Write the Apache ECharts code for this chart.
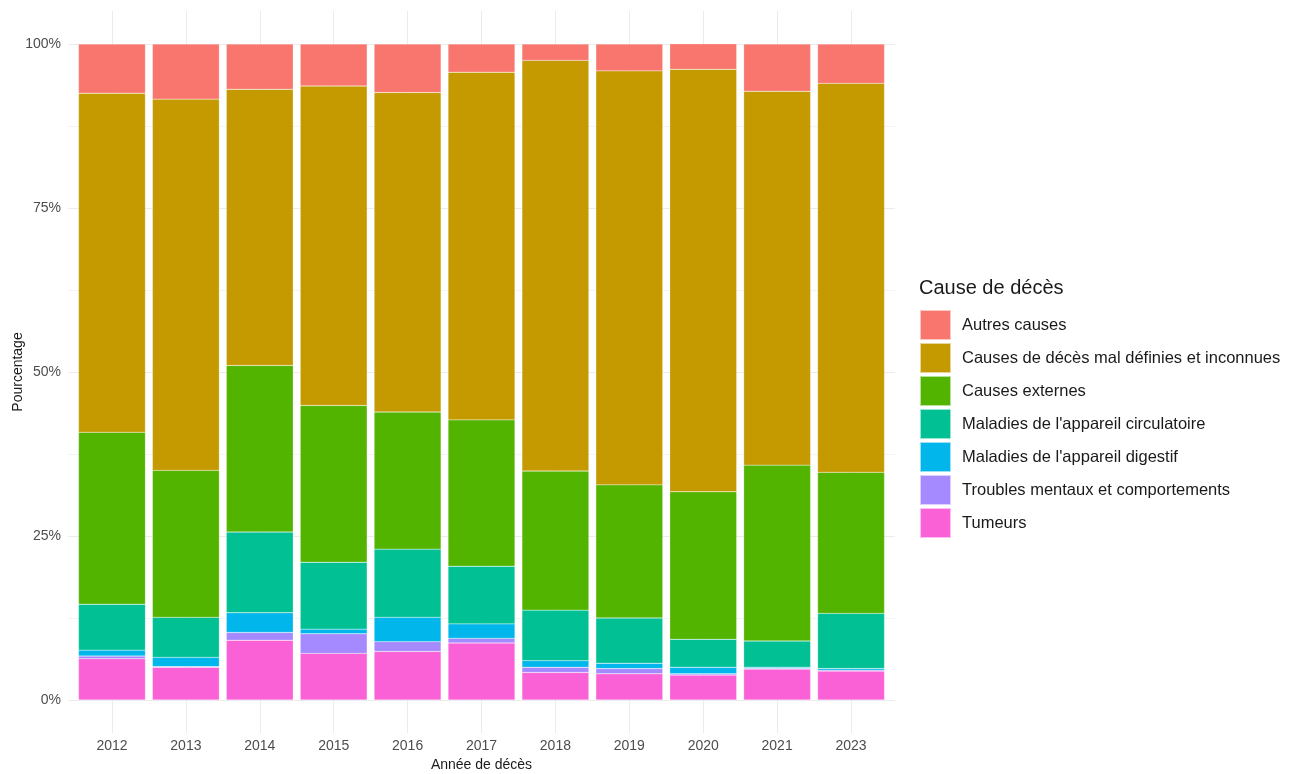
<!DOCTYPE html>
<html>
<head>
<meta charset="utf-8">
<script src="https://cdn.jsdelivr.net/npm/echarts@6/dist/echarts.min.js"></script>
<style>
  html, body { margin: 0; padding: 0; background: #fff; }
  #chart { width: 1312px; height: 774px; }
</style>
</head>
<body>
<div id="chart"></div>
<script>
// years on the x axis
const years = ['2012', '2013', '2014', '2015', '2016', '2017', '2018', '2019', '2020', '2021', '2023'];

// share of each cause, in % (bottom to top)
const tumeurs      = [6.3, 5.0, 9.1, 7.1, 7.4, 8.7, 4.2, 4.0, 3.8, 4.7, 4.4];
const troubles     = [0.4, 0.1, 1.2, 3.0, 1.5, 0.7, 0.8, 0.8, 0.2, 0.1, 0.15];
const digestif     = [0.9, 1.4, 3.0, 0.7, 3.7, 2.2, 1.0, 0.8, 1.0, 0.2, 0.25];
const circulatoire = [7.0, 6.1, 12.3, 10.2, 10.4, 8.8, 7.7, 6.9, 4.25, 4.0, 8.4];
const externes     = [26.2, 22.4, 25.4, 23.9, 20.9, 22.3, 21.2, 20.3, 22.5, 26.8, 21.5];
const malDefinies  = [51.7, 56.6, 42.1, 48.7, 48.7, 53.0, 62.6, 63.1, 64.4, 57.0, 59.3];
const autres       = [7.5, 8.4, 6.9, 6.4, 7.4, 4.3, 2.5, 4.1, 3.9, 7.2, 6.0];

const yTicks = [0, 25, 50, 75, 100];

const causes = [
  { name: 'Tumeurs', data: tumeurs, color: '#FB61D7' },
  { name: 'Troubles mentaux et comportements', data: troubles, color: '#A58AFF' },
  { name: "Maladies de l'appareil digestif", data: digestif, color: '#00B6EB' },
  { name: "Maladies de l'appareil circulatoire", data: circulatoire, color: '#00C094' },
  { name: 'Causes externes', data: externes, color: '#53B400' },
  { name: 'Causes de décès mal définies et inconnues', data: malDefinies, color: '#C49A00' },
  { name: 'Autres causes', data: autres, color: '#F8766D' }
];

const font = '"Liberation Sans", Arial, Helvetica, sans-serif';
const chart = echarts.init(document.getElementById('chart'), null, { renderer: 'canvas' });

const series = causes.map(c => ({
  name: c.name,
  type: 'bar',
  stack: 'total',
  xAxisIndex: 0,
  yAxisIndex: 0,
  barCategoryGap: '9.5%',
  itemStyle: { color: c.color, borderColor: 'rgba(255,255,255,0.6)', borderWidth: 0.4 },
  emphasis: { disabled: true },
  data: c.data
}));

chart.setOption({
  animation: false,
  textStyle: { fontFamily: font },
  grid: [
    // bars
    { left: 75, right: 424, top: 44, bottom: 74, outerBoundsMode: 'none' },
    // vertical grid lines at the year centres, full panel height
    { left: 112, right: 461, top: 11, bottom: 41, outerBoundsMode: 'none' },
    // horizontal grid lines, full panel width
    { left: 68, right: 417, top: 44, bottom: 74, outerBoundsMode: 'none' }
  ],
  legend: {
    orient: 'vertical',
    left: 919,
    top: 309,
    padding: 0,
    itemWidth: 31,
    itemHeight: 30,
    itemGap: 1,
    icon: 'rect',
    selectedMode: false,
    textStyle: { fontSize: 16.5, color: '#1a1a1a', fontFamily: font, padding: [0, 0, 0, 6] },
    data: causes.slice().reverse().map(c => c.name)
  },
  graphic: [{
    type: 'text',
    left: 919,
    top: 278,
    style: { text: 'Cause de décès', fontSize: 20, fill: '#1a1a1a', fontFamily: font }
  }],
  xAxis: [{
    type: 'category',
    gridIndex: 0,
    data: years,
    show: false
  }, {
    type: 'value',
    gridIndex: 1,
    min: 0,
    max: 10,
    interval: 1,
    name: 'Année de décès',
    nameLocation: 'middle',
    nameGap: 25,
    nameMoveOverlap: false,
    nameTextStyle: { fontSize: 14, color: '#1a1a1a' },
    axisLine: { show: false },
    axisTick: { show: false },
    axisLabel: { fontSize: 14, color: '#4d4d4d', margin: 6, formatter: v => years[v] },
    splitLine: { show: true, lineStyle: { color: '#ebebeb', width: 1 } }
  }, {
    type: 'value',
    gridIndex: 2,
    min: 0,
    max: 1,
    show: false
  }],
  yAxis: [{
    type: 'value',
    gridIndex: 0,
    min: 0,
    max: 100,
    show: false
  }, {
    type: 'value',
    gridIndex: 1,
    min: 0,
    max: 1,
    show: false
  }, {
    type: 'value',
    gridIndex: 2,
    min: 0,
    max: 100,
    interval: 25,
    name: 'Pourcentage',
    nameLocation: 'middle',
    nameGap: 43,
    nameMoveOverlap: false,
    nameTextStyle: { fontSize: 14, color: '#1a1a1a' },
    axisLine: { show: false },
    axisTick: { show: false },
    axisLabel: {
      fontSize: 14,
      color: '#4d4d4d',
      margin: 7,
      formatter: v => yTicks.includes(v) ? v + '%' : ''
    },
    splitLine: { show: true, lineStyle: { color: '#ebebeb', width: 1 } },
    minorTick: { show: false, splitNumber: 2 },
    minorSplitLine: { show: true, lineStyle: { color: '#f3f3f3', width: 1 } }
  }],
  series: series
});
</script>
</body>
</html>
